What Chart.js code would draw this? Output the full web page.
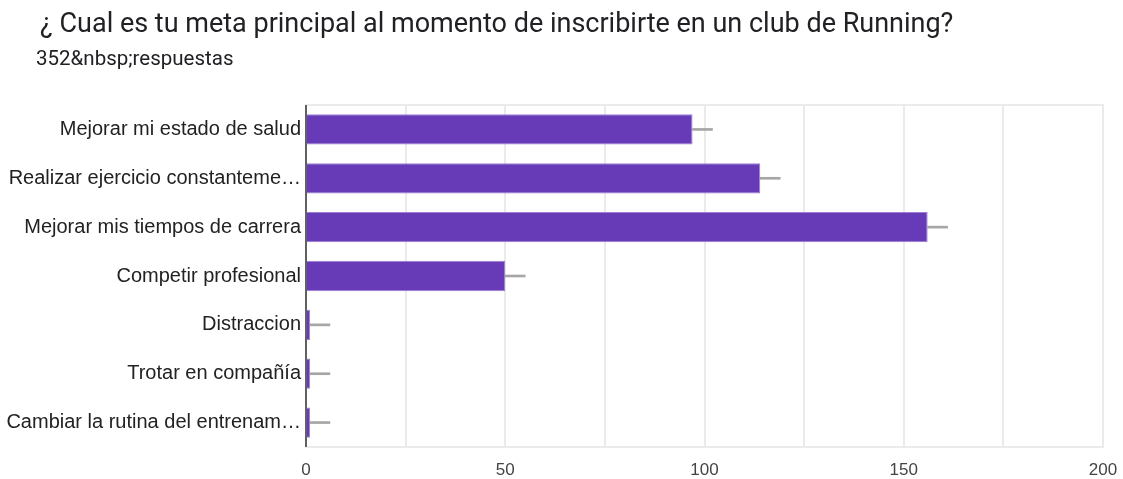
<!DOCTYPE html>
<html>
<head>
<meta charset="utf-8">
<script src="https://cdn.jsdelivr.net/npm/chart.js@4.4.1/dist/chart.umd.min.js"></script>
<style>
  body { margin: 0; background: #fff; }
  #wrap { position: relative; width: 1123px; height: 479px; }
  #title { position: absolute; left: 40px; top: 7px; font-family: Roboto, sans-serif; font-size: 27px; color: #202124; white-space: nowrap; }
  #sub { position: absolute; left: 36px; top: 46px; font-family: Roboto, sans-serif; font-size: 20.5px; color: #202124; }
  #c { position: absolute; left: 0; top: 0; }
</style>
</head>
<body>
<div id="wrap">
  <canvas id="c" width="1123" height="479"></canvas>
  <div id="title">¿ Cual es tu meta principal al momento de inscribirte en un club de Running?</div>
  <div id="sub">352&amp;nbsp;respuestas</div>
</div>
<script>
// categories as shown (already cut off in the original)
var labels = [
  'Mejorar mi estado de salud',
  'Realizar ejercicio constanteme…',
  'Mejorar mis tiempos de carrera',
  'Competir profesional',
  'Distraccion',
  'Trotar en compañía',
  'Cambiar la rutina del entrenam…'
];
var counts = [97, 114, 156, 50, 1, 1, 1];
// grey whisker lines to the right of each bar, end value
var whiskerEnd = [102, 119, 161, 55, 6, 6, 6];
var xTicks = [0, 50, 100, 150, 200];

var whiskers = [];
for (var i = 0; i < counts.length; i++) {
  whiskers.push([counts[i], whiskerEnd[i]]);
}

var labelFont = "'Liberation Sans', Arial, sans-serif";

// light frame around the plot area
var framePlugin = {
  id: 'frame',
  beforeDatasetsDraw: function(chart) {
    var a = chart.chartArea, ctx = chart.ctx;
    ctx.save();
    ctx.strokeStyle = '#ebebeb';
    ctx.lineWidth = 2;
    ctx.strokeRect(a.left, a.top, a.right - a.left, a.bottom - a.top);
    ctx.strokeStyle = '#333';
    ctx.lineWidth = 1.5;
    ctx.beginPath();
    ctx.moveTo(a.left, a.top);
    ctx.lineTo(a.left, a.bottom);
    ctx.stroke();
    ctx.restore();
  }
};

new Chart(document.getElementById('c'), {
  type: 'bar',
  data: {
    labels: labels,
    datasets: [
      {
        data: counts,
        backgroundColor: '#673ab7',
        borderColor: '#9c7fd4',
        borderWidth: 1,
        barPercentage: 0.62,
        categoryPercentage: 1,
        grouped: false,
        order: 1
      },
      {
        data: whiskers,
        backgroundColor: '#a6a6a6',
        borderWidth: 0,
        barThickness: 2,
        grouped: false,
        order: 2
      }
    ]
  },
  options: {
    indexAxis: 'y',
    responsive: false,
    animation: false,
    layout: { padding: { left: 0, right: 20, top: 105, bottom: 0 } },
    plugins: {
      legend: { display: false },
      tooltip: { enabled: false }
    },
    scales: {
      x: {
        min: 0,
        max: 200,
        afterBuildTicks: function(scale) {
          var t = [];
          for (var v = 0; v <= 200; v += 25) t.push({ value: v });
          scale.ticks = t;
        },
        afterFit: function(scale) {
          scale.height = 32;
          scale.paddingLeft = 0;
          scale.paddingRight = 0;
        },
        ticks: {
          autoSkip: false,
          maxRotation: 0,
          padding: 13,
          color: '#444',
          font: { family: labelFont, size: 17 },
          callback: function(v) { return xTicks.indexOf(v) >= 0 ? v : ''; }
        },
        grid: { color: '#ebebeb', lineWidth: 2, drawTicks: false },
        border: { display: false }
      },
      y: {
        afterFit: function(scale) { scale.width = 306; },
        ticks: {
          padding: 5,
          color: '#222',
          font: { family: labelFont, size: 20 }
        },
        grid: { display: false, drawTicks: false },
        border: { display: false }
      }
    }
  },
  plugins: [framePlugin]
});
</script>
</body>
</html>
